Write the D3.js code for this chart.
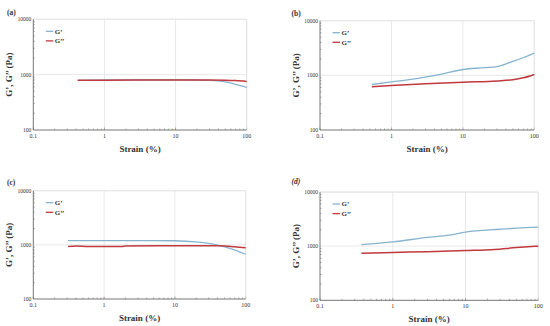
<!DOCTYPE html>
<html><head><meta charset="utf-8">
<script src="https://cdn.jsdelivr.net/npm/d3@7"></script>
<style>body{margin:0;background:#fff}svg{display:block}</style>
</head><body>
<svg id="c" width="550" height="326"></svg>
<script>
// ---- data ----
const panelLabels = ["(a)", "(b)", "(c)", "(d)"];
const seriesNames = ["G\u2019", "G\u2019\u2019"];
const xTicks = [0.1, 1, 10, 100];
const yTicks = [100, 1000, 10000];
const xTickLabels = ["0.1", "1", "10", "100"];
const yTickLabels = ["100", "1000", "10000"];
const xTitle = "Strain (%)";
const yTitle = "G\u2019, G\u2019\u2019 (Pa)";

const aG1 = [[0.42,790],[1,800],[3,805],[10,805],[20,800],[30,790],[40,770],[50,740],[70,670],[100,590]];
const aG2 = [[0.42,790],[1,795],[10,800],[30,800],[50,795],[70,780],[100,750]];
const bG1 = [[0.53,680],[1,760],[2,850],[5,1050],[10,1280],[20,1380],[30,1450],[50,1800],[70,2100],[100,2550]];
const bG2 = [[0.53,620],[1,650],[3,700],[10,750],[30,790],[50,830],[70,900],[100,1040]];
const cG1 = [[0.31,1200],[1,1200],[5,1200],[10,1190],[20,1130],[30,1060],[40,990],[60,860],[100,670]];
const cG2 = [[0.31,930],[0.4,950],[0.6,935],[1.8,935],[2,955],[10,965],[40,960],[70,920],[100,880]];
const dG1 = [[0.37,1070],[1,1200],[3,1450],[6,1600],[10,1820],[30,2050],[50,2150],[100,2250]];
const dG2 = [[0.37,740],[1,765],[3,790],[10,830],[25,870],[50,940],[100,1000]];
const panelData = [[aG1,aG2],[bG1,bG2],[cG1,cG2],[dG1,dG2]];

// ---- layout ----
const layout = [
  {l:33.3, r:246.7, t:19.3, b:130, lx:7, ly:15, italic:false},
  {l:320, r:534.3, t:20.7, b:130, lx:291.5, ly:15.5, italic:false},
  {l:33.3, r:245.7, t:190.7, b:299, lx:7, ly:185, italic:false},
  {l:320, r:538.3, t:192, b:300.3, lx:291.5, ly:184, italic:true}
];
const colors = ["#86b4cf", "#c0393d"];
const serif = "'Liberation Serif','DejaVu Serif',serif";
const svg = d3.select("#c");

layout.forEach((L, i) => {
  const x = d3.scaleLog().domain([0.1, 100]).range([L.l, L.r]);
  const y = d3.scaleLog().domain([100, 10000]).range([L.b, L.t]);
  const g = svg.append("g");

  // grid
  g.selectAll(".vg").data(xTicks.slice(1)).enter().append("line")
    .attr("x1", d => x(d)).attr("x2", d => x(d)).attr("y1", L.t).attr("y2", L.b)
    .attr("stroke", "#e2e2e2").attr("stroke-width", 0.8);
  g.selectAll(".hg").data(yTicks.slice(1)).enter().append("line")
    .attr("x1", L.l).attr("x2", L.r).attr("y1", d => y(d)).attr("y2", d => y(d))
    .attr("stroke", "#e2e2e2").attr("stroke-width", 0.8);

  // minor ticks
  const xMinor = [];
  for (let e = -1; e < 2; e++) for (let k = 2; k <= 9; k++) xMinor.push(k * Math.pow(10, e));
  const yMinor = [];
  for (let e = 2; e < 4; e++) for (let k = 2; k <= 9; k++) yMinor.push(k * Math.pow(10, e));
  g.selectAll(".xm").data(xMinor).enter().append("line")
    .attr("x1", d => x(d)).attr("x2", d => x(d)).attr("y1", L.b).attr("y2", L.b - 1.5)
    .attr("stroke", "#777").attr("stroke-width", 0.6);
  g.selectAll(".ym").data(yMinor).enter().append("line")
    .attr("x1", L.l).attr("x2", L.l + 1.5).attr("y1", d => y(d)).attr("y2", d => y(d))
    .attr("stroke", "#777").attr("stroke-width", 0.6);
  g.selectAll(".xM").data(xTicks).enter().append("line")
    .attr("x1", d => x(d)).attr("x2", d => x(d)).attr("y1", L.b).attr("y2", L.b - 2.5)
    .attr("stroke", "#777").attr("stroke-width", 0.6);

  // axes lines
  g.append("line").attr("x1", L.l).attr("x2", L.r).attr("y1", L.t).attr("y2", L.t).attr("stroke", "#e2e2e2").attr("stroke-width", 0.8);
  g.append("line").attr("x1", L.r).attr("x2", L.r).attr("y1", L.t).attr("y2", L.b).attr("stroke", "#e2e2e2").attr("stroke-width", 0.8);
  g.append("line").attr("x1", L.l).attr("x2", L.r).attr("y1", L.b).attr("y2", L.b).attr("stroke", "#666").attr("stroke-width", 0.9);
  g.append("line").attr("x1", L.l).attr("x2", L.l).attr("y1", L.t).attr("y2", L.b).attr("stroke", "#666").attr("stroke-width", 0.9);

  // tick labels
  g.selectAll(".xl").data(xTicks).enter().append("text")
    .attr("x", d => x(d)).attr("y", L.b + 8)
    .attr("text-anchor", "middle").attr("font-family", serif).attr("font-size", 6).attr("fill", "#333")
    .text((d, j) => xTickLabels[j]);
  g.selectAll(".yl").data(yTicks).enter().append("text")
    .attr("x", L.l - 2).attr("y", d => y(d) + 2)
    .attr("text-anchor", "end").attr("font-family", serif).attr("font-size", 5.5).attr("fill", "#333")
    .text((d, j) => yTickLabels[j]);

  // series lines
  const line = d3.line().x(d => x(d[0])).y(d => y(d[1])).curve(d3.curveMonotoneX);
  // draw G' first then G'' on top
  panelData[i].forEach((s, j) => {
    g.append("path").datum(s).attr("d", line).attr("fill", "none")
      .attr("stroke", colors[j]).attr("stroke-width", j === 0 ? 1.3 : 1.5);
  });

  // legend
  seriesNames.forEach((n, j) => {
    const ly = L.t + 12 + j * 9.6;
    g.append("line").attr("x1", L.l + 12.5).attr("x2", L.l + 20).attr("y1", ly).attr("y2", ly)
      .attr("stroke", colors[j]).attr("stroke-width", 1.3);
    g.append("text").attr("x", L.l + 21.5).attr("y", ly + 2.3)
      .attr("font-family", serif).attr("font-weight", "bold").attr("font-size", 7).attr("fill", "#333")
      .text(n);
  });

  // titles
  g.append("text").attr("x", (L.l + L.r) / 2).attr("y", L.b + 22)
    .attr("text-anchor", "middle").attr("font-family", serif).attr("font-weight", "bold")
    .attr("font-size", 9).attr("fill", "#333").text(xTitle);
  g.append("text").attr("transform", `translate(${L.l - 21},${(L.t + L.b) / 2}) rotate(-90)`)
    .attr("text-anchor", "middle").attr("font-family", serif).attr("font-weight", "bold")
    .attr("font-size", 9).attr("fill", "#333").text(yTitle);
  g.append("text").attr("x", L.lx).attr("y", L.ly)
    .attr("font-family", serif).attr("font-weight", "bold").attr("font-style", L.italic ? "italic" : "normal")
    .attr("font-size", 7.5).attr("fill", "#333").text(panelLabels[i]);
});
</script>
</body></html>
